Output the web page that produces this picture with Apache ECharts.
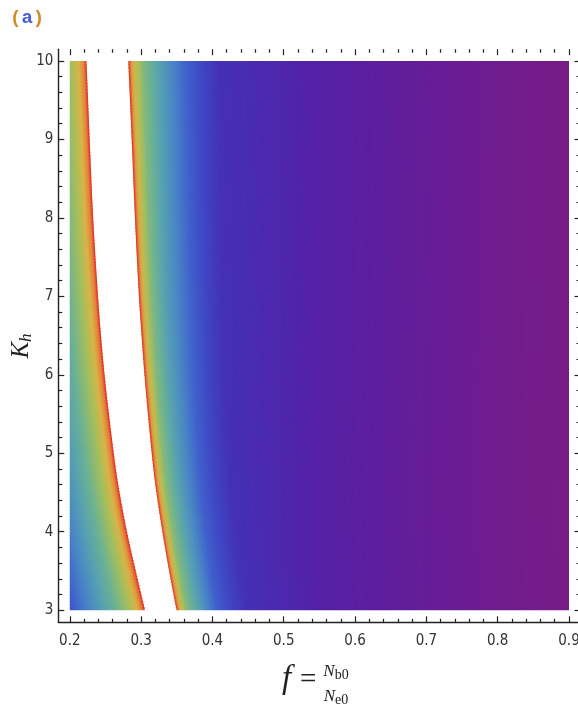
<!DOCTYPE html>
<html><head><meta charset="utf-8">
<script src="https://cdn.jsdelivr.net/npm/echarts@6/dist/echarts.min.js"></script>
<style>html,body{margin:0;padding:0;background:#fff}#c{width:578px;height:711px}</style>
</head><body><div id="c"></div>
<script>
// ---------------- data ----------------
const fRange = [0.2, 0.9];          // extent of the density data (x)
const kRange = [3, 10];             // extent of the density data (y)
const xTicks = [0.2, 0.3, 0.4, 0.5, 0.6, 0.7, 0.8, 0.9];
const yTicks = [3, 4, 5, 6, 7, 8, 9, 10];
const xMinorTicks = [0.22,0.24,0.26,0.28,0.32,0.34,0.36,0.38,0.42,0.44,0.46,0.48,0.52,0.54,0.56,0.58,
                     0.62,0.64,0.66,0.68,0.72,0.74,0.76,0.78,0.82,0.84,0.86,0.88];
const yMinorTicks = [3.2,3.4,3.6,3.8,4.2,4.4,4.6,4.8,5.2,5.4,5.6,5.8,6.2,6.4,6.6,6.8,
                     7.2,7.4,7.6,7.8,8.2,8.4,8.6,8.8,9.2,9.4,9.6,9.8];

// boundaries of the white (out of range) gap, f at given K_h
const edgeK      = [3,      3.38,   4,      4.66,   5,      6,      6.6,    7,      8,      9,      10];
const leftEdgeF  = [0.3055, 0.2956, 0.2802, 0.2669, 0.2617, 0.2488, 0.2429, 0.2396, 0.2328, 0.2279, 0.2234];
const rightEdgeF = [0.3499, 0.3419, 0.3300, 0.3192, 0.3150, 0.3048, 0.2999, 0.2970, 0.2914, 0.2868, 0.2820];

// left region: colour level versus distance to the left gap edge
const leftLevels = [1.0, 0.9,   0.8,   0.7,   0.6,  0.52,  0.45,  0.38,  0.34];
const leftDist   = [0,   0.004, 0.011, 0.022, 0.04, 0.058, 0.078, 0.098, 0.11];

// right region: f position of each colour level on three read rows
const rightLevels = [1.0, 0.9, 0.8, 0.65, 0.52, 0.38, 0.25, 0.17, 0.08, 0.0];
const rightRowK = [3, 6.6, 10];
const rightRowF = [
  [0.3499, 0.352,  0.355, 0.364, 0.382, 0.406, 0.448, 0.55, 0.72, 0.9],
  [0.2999, 0.302,  0.306, 0.316, 0.336, 0.372, 0.415, 0.55, 0.72, 0.9],
  [0.2820, 0.2845, 0.288, 0.302, 0.326, 0.364, 0.410, 0.55, 0.72, 0.9]
];

// rainbow colour scale (level -> colour)
const paletteV = [0,        0.08,      0.17,      0.25,      0.32,      0.38,      0.45,      0.52,      0.6,       0.7,       0.8,       0.9,       1];
const paletteC = ['#781c86','#681c96','#5420a6','#4430b6','#3e46c4','#3f60cc','#4884c6','#56a0b2','#6cb292','#a4bf5c','#d8b446','#e6803a','#e02a22'];

// ---------------- helpers ----------------
function interp(xs, ys, x) {
  if (x <= xs[0]) return ys[0];
  for (let i = 1; i < xs.length; i++) {
    if (x <= xs[i]) { const t = (x - xs[i-1]) / (xs[i] - xs[i-1]); return ys[i-1] + t * (ys[i] - ys[i-1]); }
  }
  return ys[ys.length - 1];
}
// smooth (monotone cubic) curve through read boundary points
function monotoneCurve(xs, ys) {
  const n = xs.length, d = [], m = new Array(n);
  for (let i = 0; i < n - 1; i++) d.push((ys[i+1] - ys[i]) / (xs[i+1] - xs[i]));
  m[0] = d[0]; m[n-1] = d[n-2];
  for (let i = 1; i < n - 1; i++) m[i] = (d[i-1] * d[i] <= 0) ? 0 : (d[i-1] + d[i]) / 2;
  for (let i = 0; i < n - 1; i++) {
    if (d[i] === 0) { m[i] = 0; m[i+1] = 0; continue; }
    const a = m[i] / d[i], b = m[i+1] / d[i], s = a * a + b * b;
    if (s > 9) { const t = 3 / Math.sqrt(s); m[i] = t * a * d[i]; m[i+1] = t * b * d[i]; }
  }
  return function (x) {
    if (x <= xs[0]) return ys[0];
    if (x >= xs[n-1]) return ys[n-1];
    let i = 0; while (x > xs[i+1]) i++;
    const h = xs[i+1] - xs[i], t = (x - xs[i]) / h, t2 = t * t, t3 = t2 * t;
    return (2*t3 - 3*t2 + 1) * ys[i] + (t3 - 2*t2 + t) * h * m[i] + (-2*t3 + 3*t2) * ys[i+1] + (t3 - t2) * h * m[i+1];
  };
}
const leftEdgeAt = monotoneCurve(edgeK, leftEdgeF);
const rightEdgeAt = monotoneCurve(edgeK, rightEdgeF);

function colorOf(v) {
  v = Math.max(0, Math.min(1, v));
  for (let i = 1; i < paletteV.length; i++) {
    if (v <= paletteV[i]) {
      const t = (v - paletteV[i-1]) / (paletteV[i] - paletteV[i-1]);
      return echarts.color.lerp(t, [paletteC[i-1], paletteC[i]]);
    }
  }
  return paletteC[paletteC.length - 1];
}
function leftValue(f, k) {
  return interp(leftDist, leftLevels, leftEdgeAt(k) - f);
}
function rightValue(f, k) {
  const xR = rightEdgeAt(k);
  const pos = rightLevels.map((_, i) => xR + interp(rightRowK, rightRowF.map(r => r[i] - r[0]), k));
  return interp(pos, rightLevels, f);
}

// table of horizontal strips for the custom series: [f0, f1, k0, k1, side]
const kStep = 0.04;
const strips = [];
const nStrips = Math.round((kRange[1] - kRange[0]) / kStep);
for (let j = 0; j < nStrips; j++) {
  const k0 = kRange[0] + j * kStep, k1 = kRange[0] + (j + 1) * kStep, km = (k0 + k1) / 2;
  strips.push([fRange[0], leftEdgeAt(km), k0, k1, 0]);
  strips.push([rightEdgeAt(km), fRange[1], k0, k1, 1]);
}

// ---------------- chart ----------------
const chart = echarts.init(document.getElementById('c'), null, { renderer: 'canvas' });
const tickFont = '"Liberation Sans Narrow","DejaVu Sans Condensed","Liberation Sans",sans-serif';
const serif = '"Liberation Serif","DejaVu Serif",serif';
const ink = '#222';
const X_MIN = 0.18387, X_MAX = 0.91613, Y_MIN = 2.845, Y_MAX = 10.15;

function xAxisDef(pos, major, showLine) {
  return {
    type: 'value', position: pos, min: X_MIN, max: X_MAX, scale: true,
    axisLine: { show: showLine, onZero: false, lineStyle: { color: ink, width: 1.4 } },
    axisTick: { show: true, inside: true, customValues: major ? xTicks : xMinorTicks,
                length: major ? 6 : 3.5, lineStyle: { color: ink, width: 1.2 } },
    axisLabel: { show: major && pos === 'bottom', customValues: xTicks, margin: 11,
                 fontSize: 15, color: '#333', fontFamily: tickFont, formatter: v => v.toFixed(1) },
    splitLine: { show: false }
  };
}
function yAxisDef(pos, major, showLine) {
  return {
    type: 'value', position: pos, min: Y_MIN, max: Y_MAX, scale: true,
    axisLine: { show: showLine, onZero: false, lineStyle: { color: ink, width: 1.4 } },
    axisTick: { show: true, inside: true, customValues: major ? yTicks : yMinorTicks,
                length: major ? 6 : 4, lineStyle: { color: ink, width: 1.2 } },
    axisLabel: { show: major && pos === 'left', customValues: yTicks, margin: 5,
                 fontSize: 15, color: '#333', fontFamily: tickFont, formatter: v => String(v) },
    splitLine: { show: false }
  };
}

chart.setOption({
  animation: false,
  backgroundColor: '#fff',
  grid: { left: 58.3, right: -2.5, top: 49.2, bottom: 88.7, containLabel: false, outerBoundsMode: 'none' },
  xAxis: [xAxisDef('bottom', true, true), xAxisDef('bottom', false, false),
          xAxisDef('top', true, false), xAxisDef('top', false, false)],
  yAxis: [yAxisDef('left', true, true), yAxisDef('left', false, false),
          yAxisDef('right', true, false), yAxisDef('right', false, false)],
  series: [{
    type: 'custom', xAxisIndex: 0, yAxisIndex: 0, progressive: 0, silent: true,
    encode: { x: [0, 1], y: [2, 3] },
    data: strips,
    renderItem: function (params, api) {
      const f0 = api.value(0), f1 = api.value(1), k0 = api.value(2), k1 = api.value(3), side = api.value(4);
      const pA = api.coord([f0, k1]), pB = api.coord([f1, k0]);
      const km = (k0 + k1) / 2, n = side === 0 ? 30 : 160;
      const stops = [];
      for (let i = 0; i <= n; i++) {
        const t = i / n, f = f0 + (f1 - f0) * t;
        stops.push({ offset: t, color: colorOf(side === 0 ? leftValue(f, km) : rightValue(f, km)) });
      }
      const extra = k0 > kRange[0] + 1e-9 ? 1.2 : 0;   // overlap the strip below to hide seams
      return {
        type: 'rect',
        shape: { x: pA[0], y: pA[1], width: pB[0] - pA[0], height: pB[1] - pA[1] + extra },
        style: { fill: new echarts.graphic.LinearGradient(0, 0, 1, 0, stops) }
      };
    }
  }],
  graphic: [
    { type: 'text', left: 10, top: 9, style: {
        text: '{p|(}{a|a}{p|)}',
        rich: { p: { fill: '#d08a2a', fontSize: 19, fontWeight: 'bold', fontFamily: '"Liberation Mono",monospace' },
                a: { fill: '#4a5cd0', fontSize: 19, fontWeight: 'bold', fontFamily: '"Liberation Mono",monospace' } } } },
    { type: 'text', x: 21, y: 346, rotation: Math.PI / 2, style: {
        text: '{k|K}{h|h}', align: 'center', verticalAlign: 'middle',
        rich: { k: { fill: '#222', fontSize: 25, fontStyle: 'italic', fontFamily: serif },
                h: { fill: '#222', fontSize: 17, fontStyle: 'italic', fontFamily: serif, padding: [11, 0, 0, 0] } } } },
    { type: 'text', x: 282, y: 679, style: {
        text: 'f', align: 'left', verticalAlign: 'middle', fill: '#222',
        font: 'italic 33px ' + serif } },
    { type: 'text', x: 300, y: 680, style: {
        text: '=', align: 'left', verticalAlign: 'middle', fill: '#222',
        font: '29px ' + serif } },
    { type: 'text', x: 336, y: 672, style: {
        text: '{n|N}{s|b0}', align: 'center', verticalAlign: 'middle',
        rich: { n: { fill: '#222', fontSize: 17, fontStyle: 'italic', fontFamily: serif },
                s: { fill: '#222', fontSize: 14, fontFamily: serif, padding: [6, 0, 0, 0] } } } },
    { type: 'text', x: 336, y: 697, style: {
        text: '{n|N}{s|e0}', align: 'center', verticalAlign: 'middle',
        rich: { n: { fill: '#222', fontSize: 17, fontStyle: 'italic', fontFamily: serif },
                s: { fill: '#222', fontSize: 14, fontFamily: serif, padding: [6, 0, 0, 0] } } } }
  ]
});
</script></body></html>
